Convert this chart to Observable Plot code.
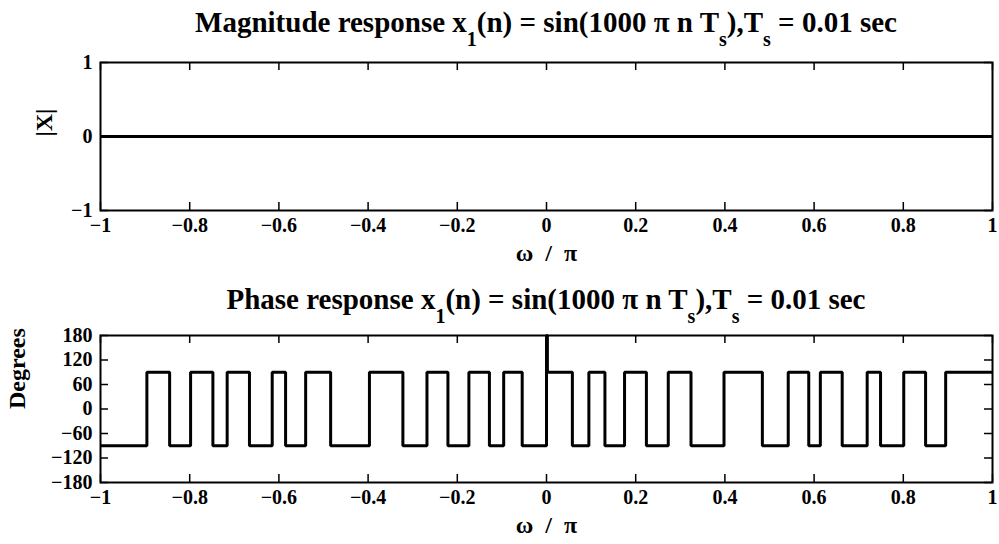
<!DOCTYPE html>
<html>
<head>
<meta charset="utf-8">
<script src="https://cdn.jsdelivr.net/npm/d3@7"></script>
<script src="https://cdn.jsdelivr.net/npm/@observablehq/plot@0.6"></script>
<style>
  html, body { margin: 0; padding: 0; background: #fff; }
  #wrap { position: relative; width: 999px; height: 544px; background: #fff; overflow: hidden;
          font-family: "Liberation Serif", "Times New Roman", serif; font-weight: bold; color: #000; }
  .title { position: absolute; z-index: 5; left: 100px; width: 892px; text-align: center; font-size: 29px; line-height: 29px; white-space: nowrap; }
  .sub { font-size: 20px; position: relative; top: 14px; }
  svg { position: absolute; left: 0; z-index: 1; }
</style>
</head>
<body>
<div id="wrap">
  <div class="title" style="top:8px">Magnitude response x<span class="sub">1</span>(n) = sin(1000 &pi; n T<span class="sub">s</span>),T<span class="sub">s</span> = 0.01 sec</div>
  <div class="title" style="top:285px">Phase response x<span class="sub">1</span>(n) = sin(1000 &pi; n T<span class="sub">s</span>),T<span class="sub">s</span> = 0.01 sec</div>
</div>
<script>
// ---- data ----
const magOmega = [-1, 1];
const magValue = [0, 0];

const phaseOmega = [-1, -0.896, -0.845, -0.798, -0.748, -0.716, -0.666, -0.615, -0.585, -0.540,
  -0.484, -0.397, -0.322, -0.268, -0.221, -0.174, -0.128, -0.096, -0.0545, 0, 0.002,
  0.058, 0.095, 0.131, 0.175, 0.224, 0.273, 0.324, 0.398, 0.484, 0.542,
  0.588, 0.614, 0.663, 0.719, 0.749, 0.801, 0.850, 0.895, 1];
const phaseDeg = [-90, 90, -90, 90, -90, 90, -90, 90, -90, 90,
  -90, 90, -90, 90, -90, 90, -90, 90, -90, 180, 90,
  -90, 90, -90, 90, -90, 90, -90, 90, -90, 90,
  -90, 90, -90, 90, -90, 90, -90, 90, 90];

const xTicks = [-1, -0.8, -0.6, -0.4, -0.2, 0, 0.2, 0.4, 0.6, 0.8, 1];
const xTickLabels = ["\u22121", "\u22120.8", "\u22120.6", "\u22120.4", "\u22120.2", "0", "0.2", "0.4", "0.6", "0.8", "1"];
const magTicks = [-1, 0, 1];
const magTickLabels = ["\u22121", "0", "1"];
const phaseTicks = [-180, -120, -60, 0, 60, 120, 180];
const phaseTickLabels = ["\u2212180", "\u2212120", "\u221260", "0", "60", "120", "180"];

const xLabel = "\u03c9\u2002/\u2002\u03c0";
const magYLabel = "|X|";
const phaseYLabel = "Degrees";

// ---- layout ----
const W = 999, ML = 100, MR = 7;
const innerW = W - ML - MR;
const tickLen = 8;

function panel({data, yDomain, yTicks, yLabels, yLabel, yLabelDx, top, height, mt, mb}) {
  const innerH = height - mt - mb;
  const fmtX = d => xTickLabels[xTicks.indexOf(d)];
  const fmtY = d => yLabels[yTicks.indexOf(d)];
  const svg = Plot.plot({
    width: W, height, marginLeft: ML, marginRight: MR, marginTop: mt, marginBottom: mb,
    style: {fontFamily: "Liberation Serif, Times New Roman, serif", fontSize: "20px", fontWeight: "bold", color: "#000", background: "transparent", overflow: "visible"},
    x: {domain: [-1, 1]},
    y: {domain: yDomain},
    marks: [
      Plot.line(data, {x: "x", y: "y", curve: "step-after", stroke: "#000", strokeWidth: 3, strokeLinejoin: "miter", strokeLinecap: "butt"}),
      // inward ticks on all four sides
      Plot.ruleX(xTicks, {x: d => d, insetTop: innerH - tickLen, stroke: "#000", strokeWidth: 1.5}),
      Plot.ruleX(xTicks, {x: d => d, insetBottom: innerH - tickLen, stroke: "#000", strokeWidth: 1.5}),
      Plot.ruleY(yTicks, {y: d => d, insetRight: innerW - tickLen, stroke: "#000", strokeWidth: 1.5}),
      Plot.ruleY(yTicks, {y: d => d, insetLeft: innerW - tickLen, stroke: "#000", strokeWidth: 1.5}),
      Plot.axisX(xTicks, {tickSize: 0, tickPadding: 7, tickFormat: fmtX, fontSize: 20, label: null}),
      Plot.axisY(yTicks, {tickSize: 0, tickPadding: 8, tickFormat: fmtY, fontSize: 20, label: null}),
      Plot.text([xLabel], {text: d => d, frameAnchor: "bottom", dy: 43, lineAnchor: "middle", fontSize: 24}),
      Plot.text([yLabel], {text: d => d, frameAnchor: "left", dx: yLabelDx, rotate: -90, lineAnchor: "middle", fontSize: 24}),
      Plot.frame({stroke: "#000", strokeWidth: 2})
    ]
  });
  svg.style.top = top + "px";
  return svg;
}

const magData = magOmega.map((x, i) => ({x, y: magValue[i]}));
const phaseData = phaseOmega.map((x, i) => ({x, y: phaseDeg[i]}));

const wrap = document.getElementById("wrap");
wrap.appendChild(panel({data: magData, yDomain: [-1, 1], yTicks: magTicks, yLabels: magTickLabels,
  yLabel: magYLabel, yLabelDx: -56, top: 0, height: 270, mt: 62, mb: 60}));
wrap.appendChild(panel({data: phaseData, yDomain: [-180, 180], yTicks: phaseTicks, yLabels: phaseTickLabels,
  yLabel: phaseYLabel, yLabelDx: -83, top: 272, height: 272, mt: 63, mb: 62}));
</script>
</body>
</html>
